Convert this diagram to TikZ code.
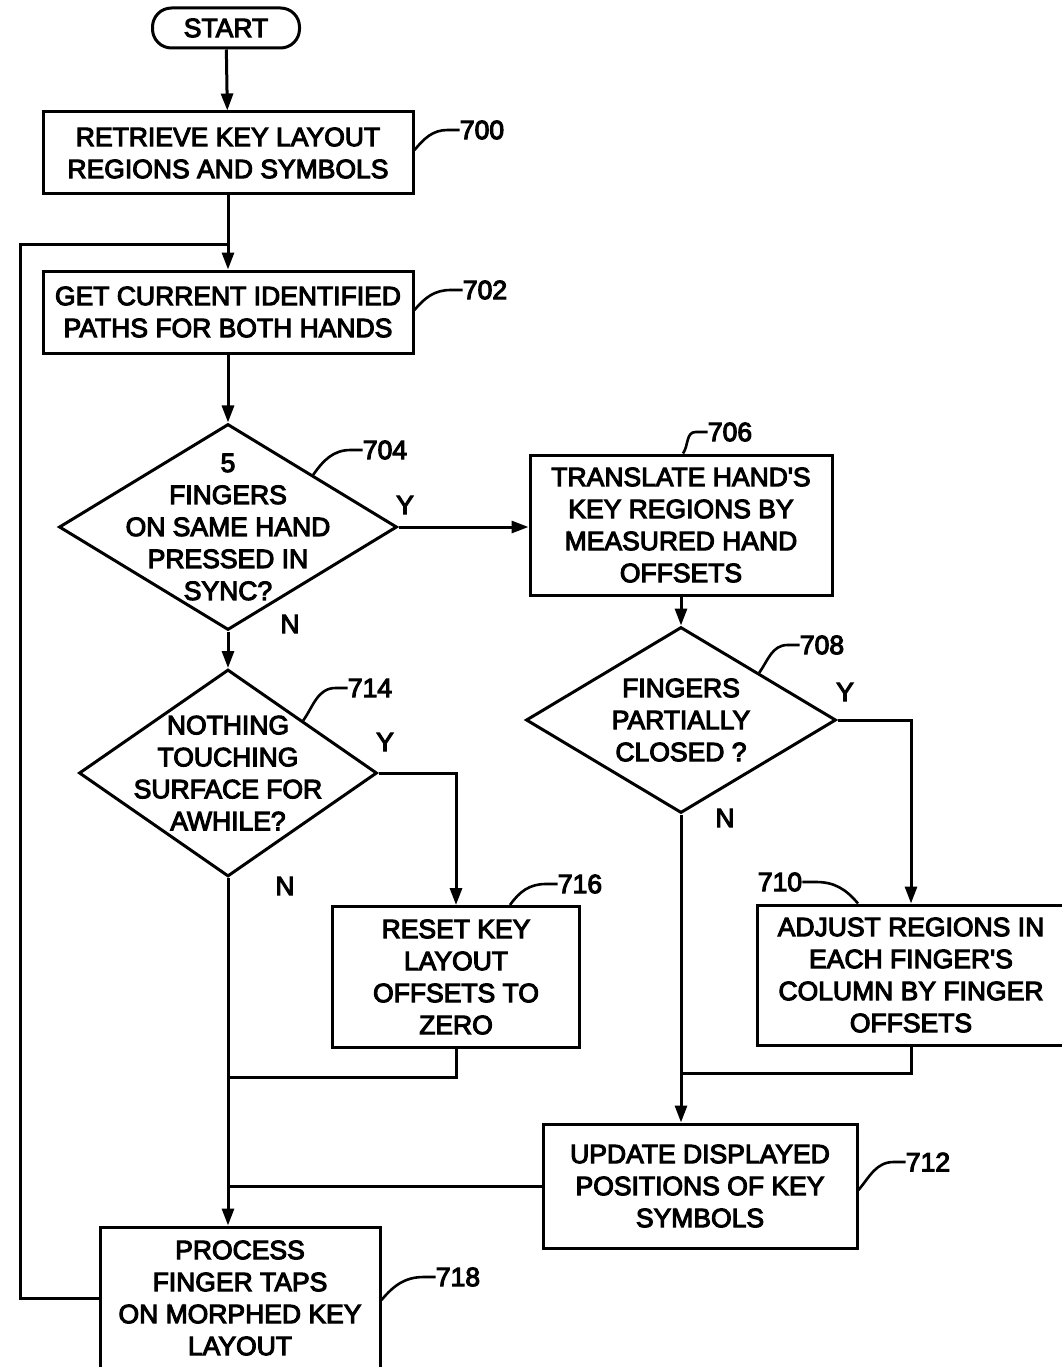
\documentclass[tikz,border=0pt]{standalone}
\usepackage{fontspec}
\setmainfont{Liberation Sans}
\newfontfamily\scanfont{Liberation Sans}[FakeBold=4]
\usetikzlibrary{positioning, arrows.meta, shapes.geometric}

\begin{document}
\begin{tikzpicture}[
        x=1pt, y=-1pt,
        every node/.style={font=\scanfont\fontsize{26.5}{32}\selectfont},
        terminal/.style={draw, line width=3pt, rectangle, rounded corners=19pt, minimum width=147pt, minimum height=40pt, inner sep=0pt},
        procbox/.style={draw, line width=3pt, rectangle, align=center, inner sep=0pt},
        decision/.style={draw, line width=3pt, diamond, inner sep=0pt},
        arrow/.style={-{Triangle[length=17pt,width=12pt]}, line width=3pt},
        plain/.style={line width=3pt},
        leader/.style={line width=2.6pt},
        refnum/.style={inner sep=0pt},
        yesno/.style={inner sep=0pt}
    ]
        \useasboundingbox (0,0) rectangle (1061,1367);

        % main column
        \node[terminal] (start) at (226,28) {START};
        \node[procbox, minimum width=370pt, minimum height=82pt] (retrieve) at (228,153) {RETRIEVE KEY LAYOUT\\REGIONS AND SYMBOLS};
        \node[procbox, minimum width=370pt, minimum height=82pt] (getpaths) at (228,312) {GET CURRENT IDENTIFIED\\PATHS FOR BOTH HANDS};
        \node[decision, minimum width=338pt, minimum height=206pt,
              label={[align=center]center:{5\\FINGERS\\ON SAME HAND\\PRESSED IN\\SYNC?}}] (sync) at (228,527) {};
        \node[decision, minimum width=298pt, minimum height=207pt,
              label={[align=center]center:{NOTHING\\TOUCHING\\SURFACE FOR\\AWHILE?}}] (nothing) at (228,773) {};
        \node[procbox, minimum width=247pt, minimum height=141pt] (reset) at (456,977) {RESET KEY\\LAYOUT\\OFFSETS TO\\ZERO};
        \node[procbox, minimum width=280pt, minimum height=142pt] (process) at (240,1298) {PROCESS\\FINGER TAPS\\ON MORPHED KEY\\LAYOUT};

        % right column
        \node[procbox, minimum width=302pt, minimum height=140pt] (translate) at (681,525) {TRANSLATE HAND'S\\KEY REGIONS BY\\MEASURED HAND\\OFFSETS};
        \node[decision, minimum width=310pt, minimum height=186pt,
              label={[align=center]center:{FINGERS\\PARTIALLY\\CLOSED ?}}] (partial) at (681,720) {};
        \node[procbox, minimum width=308pt, minimum height=140pt] (adjust) at (911,975) {ADJUST REGIONS IN\\EACH FINGER'S\\COLUMN BY FINGER\\OFFSETS};
        \node[procbox, minimum width=314pt, minimum height=124pt] (update) at (700,1186) {UPDATE DISPLAYED\\POSITIONS OF KEY\\SYMBOLS};

        % reference numerals
        \node[refnum] (lbl700) at (482,130) {700};
        \node[refnum] (lbl702) at (485,290) {702};
        \node[refnum] (lbl704) at (385,450) {704};
        \node[refnum] (lbl706) at (730,432) {706};
        \node[refnum] (lbl708) at (822,645) {708};
        \node[refnum] (lbl710) at (780,882) {710};
        \node[refnum] (lbl712) at (928,1162) {712};
        \node[refnum] (lbl714) at (370,688) {714};
        \node[refnum] (lbl716) at (580,884) {716};
        \node[refnum] (lbl718) at (458,1277) {718};

        % branch letters
        \node[yesno] (ysync) at (405,505) {Y};
        \node[yesno] (nsync) at (290,624) {N};
        \node[yesno] (ynothing) at (385,742) {Y};
        \node[yesno] (nnothing) at (285,886) {N};
        \node[yesno] (ypartial) at (845,692) {Y};
        \node[yesno] (npartial) at (725,818) {N};

        \coordinate (join1) at (228,244);
        \coordinate (loopleft) at (20,244);

        % flow
        \draw[arrow] (start) -- (retrieve);
        \draw[arrow] (retrieve) -- (getpaths);
        \draw[arrow] (getpaths) -- (sync);
        \draw[arrow] (sync.east) -- (sync.east -| translate.west);
        \draw[arrow] (sync.south) -- (nothing.north);
        \draw[arrow] (translate.south) -- (partial.north);
        \draw[arrow] (partial.east) -| (adjust.north);
        \draw[arrow] (partial.south) -- (partial.south |- update.north);
        \draw[arrow] (nothing.east) -| (reset.north);
        \draw[arrow] (nothing.south) -- (nothing.south |- process.north);
        \draw[plain] (adjust.south) |- (partial.south |- 0,1073);
        \draw[plain] (reset.south) |- (nothing.south |- 0,1077);
        \draw[plain] (update.west) -- (update.west -| nothing.south);
        \draw[plain] (process.west) -| (loopleft) -- (join1);

        % leaders
        \draw[leader] (lbl700.west) -- ++(-12pt,0) to[out=180,in=50] ([yshift=3pt]retrieve.east);
        \draw[leader] (lbl702.west) -- ++(-12pt,0) to[out=180,in=50] ([yshift=2pt]getpaths.east);
        \draw[leader] (lbl704.west) -- ++(-12pt,0) to[out=180,in=55] (sync.north east);
        \draw[leader] (lbl706.west) -- ++(-12pt,0) to[out=180,in=55] ([xshift=2pt]translate.north);
        \draw[leader] (lbl708.west) -- ++(-12pt,0) to[out=180,in=55] (partial.north east);
        \draw[leader] (lbl710.east) -- ++(14pt,0) to[out=0,in=130] ([xshift=-53pt]adjust.north);
        \draw[leader] (lbl712.west) -- ++(-12pt,0) to[out=180,in=50] ([yshift=-4pt]update.east);
        \draw[leader] (lbl714.west) -- ++(-12pt,0) to[out=180,in=55] (nothing.north east);
        \draw[leader] (lbl716.west) -- ++(-12pt,0) to[out=180,in=55] ([xshift=54pt]reset.north);
        \draw[leader] (lbl718.west) -- ++(-12pt,0) to[out=180,in=50] ([yshift=-2pt]process.east);

    \end{tikzpicture}
\end{document}
